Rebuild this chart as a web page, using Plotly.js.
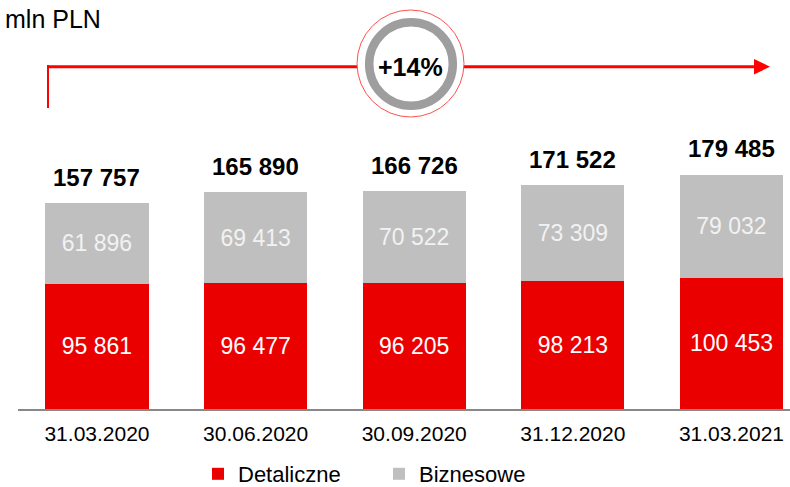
<!DOCTYPE html>
<html>
<head>
<meta charset="utf-8">
<script src="https://cdn.plot.ly/plotly-3.0.1.min.js"></script>
<style>html,body{margin:0;padding:0;background:#fff;}#chart{width:790px;height:487px;}</style>
</head>
<body>
<div id="chart"></div>
<script>
const categories = ['31.03.2020', '30.06.2020', '30.09.2020', '31.12.2020', '31.03.2021'];
const detaliczne = [95861, 96477, 96205, 98213, 100453];
const biznesowe = [61896, 69413, 70522, 73309, 79032];
const totals = [157757, 165890, 166726, 171522, 179485];
const growthLabel = '+14%';
const unitLabel = 'mln PLN';

const FONT = 'Arial, "Liberation Sans", sans-serif';
const fmt = v => String(v).replace(/\B(?=(\d{3})+(?!\d))/g, ' ');

// layout geometry (pixels)
const W = 790, H = 487, ML = 18, MR = 0, MT = 20, MB = 78;
const PW = W - ML - MR, PH = H - MT - MB;
const px = x => (x - ML) / PW;
const py = y => (H - MB - y) / PH;

const traces = [
  {
    type: 'bar', name: 'Detaliczne', x: categories, y: detaliczne,
    marker: {color: '#EB0000'}, width: 0.65,
    text: detaliczne.map(fmt), textposition: 'inside', insidetextanchor: 'middle',
    textfont: {color: '#FFFFFF', size: 23, family: FONT}, hoverinfo: 'skip'
  },
  {
    type: 'bar', name: 'Biznesowe', x: categories, y: biznesowe,
    marker: {color: '#BFBFBF'}, width: 0.65,
    text: biznesowe.map(fmt), textposition: 'inside', insidetextanchor: 'middle',
    textfont: {color: '#F2F2F2', size: 23, family: FONT}, hoverinfo: 'skip'
  }
];

const annotations = categories.map((c, i) => ({
  x: c, y: totals[i], xref: 'x', yref: 'y', text: '<b>' + fmt(totals[i]) + '</b>',
  showarrow: false, yanchor: 'middle', yshift: 26,
  font: {size: 24, color: '#000', family: FONT}
}));
annotations.push({
  x: px(3), y: py(19), xref: 'paper', yref: 'paper', text: unitLabel,
  showarrow: false, xanchor: 'left', yanchor: 'middle',
  font: {size: 25, color: '#000', family: FONT}
});
annotations.push({
  x: px(410), y: py(67), xref: 'paper', yref: 'paper', text: '<b>' + growthLabel + '</b>',
  showarrow: false, xanchor: 'center', yanchor: 'middle',
  font: {size: 25, color: '#000', family: FONT}
});

const circ = (cx, cy, r) => ({x0: px(cx - r), x1: px(cx + r), y0: py(cy + r), y1: py(cy - r)});
const shapes = [
  {type: 'line', xref: 'paper', yref: 'paper', x0: px(48), x1: px(757), y0: py(66.7), y1: py(66.7),
   line: {color: '#FF0000', width: 3}},
  {type: 'line', xref: 'paper', yref: 'paper', x0: px(48), x1: px(48), y0: py(65), y1: py(108),
   line: {color: '#FF0000', width: 2}},
  {type: 'path', xref: 'paper', yref: 'paper',
   path: `M ${px(754)},${py(59)} L ${px(770)},${py(66.7)} L ${px(754)},${py(74.5)} Z`,
   fillcolor: '#FF0000', line: {color: '#FF0000', width: 0}},
  Object.assign({type: 'circle', xref: 'paper', yref: 'paper', fillcolor: '#FFFFFF',
   line: {color: '#FF5050', width: 1}}, circ(410.5, 63.5, 53.5)),
  Object.assign({type: 'circle', xref: 'paper', yref: 'paper', fillcolor: 'rgba(0,0,0,0)',
   line: {color: '#9E9E9E', width: 8.5}}, circ(411, 64, 41.8))
];

const layout = {
  width: W, height: H,
  margin: {l: ML, r: MR, t: MT, b: MB, pad: 0, autoexpand: false},
  paper_bgcolor: '#FFFFFF', plot_bgcolor: '#FFFFFF',
  barmode: 'stack',
  font: {family: FONT, color: '#000'},
  xaxis: {
    type: 'category', range: [-0.498, 4.369], showline: true, linecolor: '#888888', linewidth: 2,
    showgrid: false, zeroline: false, ticks: '', tickfont: {size: 21, color: '#000', family: FONT},
    ticklabelstandoff: 5, automargin: false, fixedrange: true
  },
  yaxis: {visible: false, range: [0, 298000], showgrid: false, zeroline: false, fixedrange: true, automargin: false},
  showlegend: true,
  legend: {
    orientation: 'h', x: px(198), xanchor: 'left', y: py(474), yanchor: 'middle',
    traceorder: 'normal', font: {size: 22, color: '#000', family: FONT},
    entrywidth: 136, entrywidthmode: 'pixels', bgcolor: 'rgba(0,0,0,0)'
  },
  annotations: annotations,
  shapes: shapes,
  uniformtext: {mode: false}
};

Plotly.newPlot('chart', traces, layout, {displayModeBar: false, staticPlot: true});
</script>
</body>
</html>
